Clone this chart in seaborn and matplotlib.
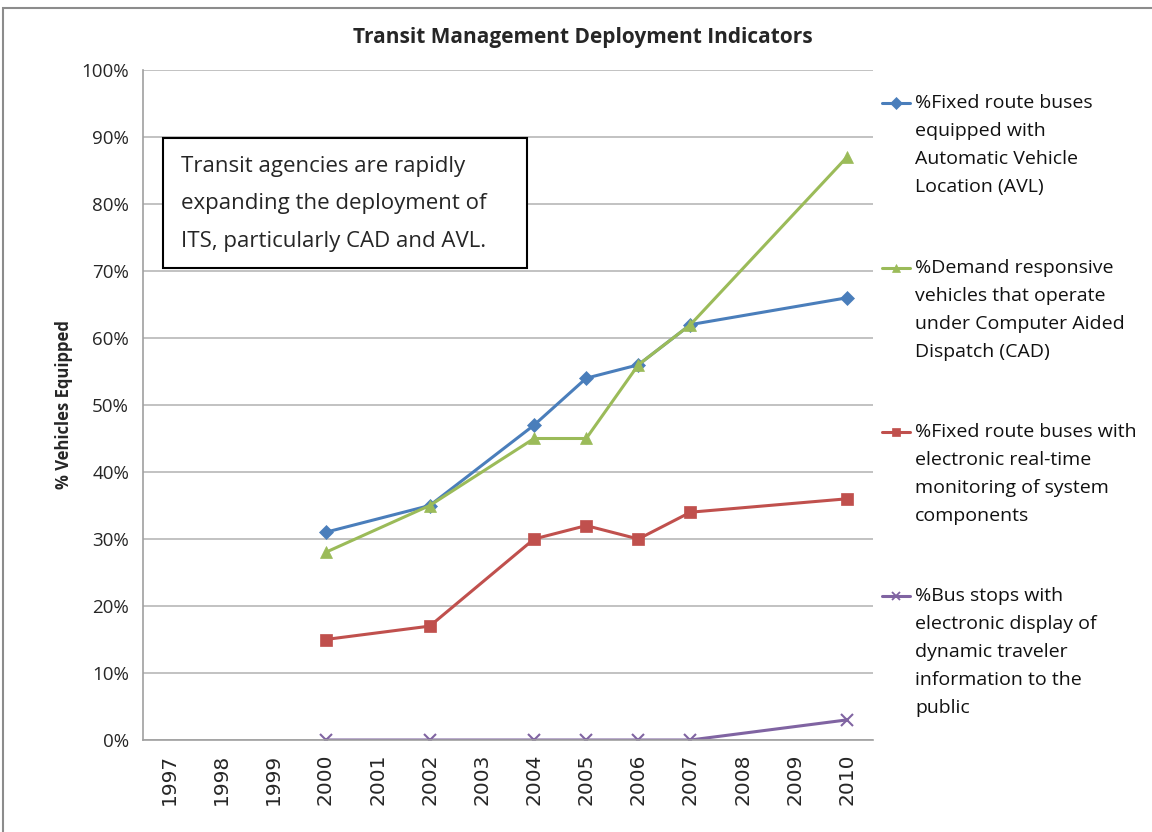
import matplotlib
matplotlib.use("Agg")
import matplotlib.pyplot as plt
import matplotlib.patches as patches
from matplotlib.lines import Line2D
from matplotlib.ticker import PercentFormatter
import seaborn as sns
import pandas as pd

# Données
years = [1997, 1998, 1999, 2000, 2001, 2002, 2003, 2004, 2005, 2006, 2007, 2008, 2009, 2010]
obs_years = [2000, 2002, 2004, 2005, 2006, 2007, 2010]
avl = [31, 35, 47, 54, 56, 62, 66]
cad = [28, 35, 45, 45, 56, 62, 87]
monitoring = [15, 17, 30, 32, 30, 34, 36]
bus_stops = [0, 0, 0, 0, 0, 0, 3]

labels = [
    "%Fixed route buses\nequipped with\nAutomatic Vehicle\nLocation (AVL)",
    "%Demand responsive\nvehicles that operate\nunder Computer Aided\nDispatch (CAD)",
    "%Fixed route buses with\nelectronic real-time\nmonitoring of system\ncomponents",
    "%Bus stops with\nelectronic display of\ndynamic traveler\ninformation to the\npublic",
]
colors = ["#4A7EBB", "#9BBB59", "#C0504D", "#8064A2"]
markers = ["D", "^", "s", "x"]
sizes = [7, 9, 8, 8]

sns.set_style("white")
plt.rcParams['font.family'] = ["Open Sans", "DejaVu Sans"]

fig = plt.figure(figsize=(11.52, 8.32), dpi=100)
ax = fig.add_axes([143 / 1152, 1 - 740 / 832, 730 / 1152, 670 / 832])

series = [avl, cad, monitoring, bus_stops]
for vals, col, mk, ms in zip(series, colors, markers, sizes):
    df = pd.DataFrame({"x": [years.index(y) for y in obs_years], "y": vals})
    sns.lineplot(data=df, x="x", y="y", ax=ax, color=col, marker=mk, markersize=ms,
                 markeredgecolor=col, markeredgewidth=1.5 if mk == "x" else 0.5,
                 linewidth=2.2, legend=False)

ax.set_xlim(-0.5, len(years) - 0.5)
ax.set_ylim(0, 100)
ax.set_yticks(range(0, 101, 10))
ax.yaxis.set_major_formatter(PercentFormatter(decimals=0))
ax.set_xticks(range(len(years)))
ax.set_xticklabels([str(y) for y in years], rotation=90, fontsize=14.5, family="DejaVu Sans")
ax.set_xticks([i - 0.5 for i in range(len(years) + 1)], minor=True)
ax.tick_params(axis="x", which="major", length=0, pad=10)
ax.tick_params(axis="x", which="minor", length=7, color="#A0A0A0", direction="out")
ax.tick_params(axis="y", length=6, color="#A0A0A0", direction="out", pad=4, labelsize=13.5)
ax.grid(axis="y", color="#B8B8B8", linewidth=1.2)
ax.grid(axis="x", visible=False)
for s in ["top", "right"]:
    ax.spines[s].set_visible(False)
for s in ["left", "bottom"]:
    ax.spines[s].set_color("#A0A0A0")
    ax.spines[s].set_linewidth(1.2)
ax.set_xlabel("")
ax.set_ylabel("% Vehicles Equipped", fontsize=12, fontweight="bold", labelpad=6)

fig.text(583 / 1152, 1 - 37 / 832, "Transit Management Deployment Indicators",
         ha="center", va="center", fontsize=15, fontweight="bold")

# Encadré de commentaire
ax.add_patch(patches.Rectangle((20 / 730, 472 / 670), 364 / 730, 130 / 670,
                               transform=ax.transAxes, facecolor="white",
                               edgecolor="black", linewidth=1.5, zorder=5))
ax.text(38 / 730, (740 - 156) / 670,
        "Transit agencies are rapidly\nexpanding the deployment of\nITS, particularly CAD and AVL.",
        transform=ax.transAxes, va="top", ha="left", fontsize=16, linespacing=2.03, zorder=6)

# Légende à droite
entry_y = [103, 268, 432, 596]
for lab, col, mk, yy in zip(labels, colors, markers, entry_y):
    yf = 1 - yy / 832
    fig.add_artist(Line2D([882 / 1152, 910 / 1152], [yf, yf], color=col, linewidth=2.2))
    fig.add_artist(Line2D([896 / 1152], [yf], color=col, marker=mk, markersize=6,
                          markeredgecolor=col, markeredgewidth=1.3 if mk == "x" else 0.5))
    fig.text(915 / 1152, yf + 9 / 832, lab, ha="left", va="top", fontsize=14,
             linespacing=1.72, color="#111111")

fig.patches.append(patches.Rectangle((3 / 1152, -0.05), 1.1, 1 - 8 / 832 + 0.05,
                                     transform=fig.transFigure, fill=False,
                                     edgecolor="#8C8C8C", linewidth=1.5))

fig.savefig("out.png", dpi=100)
